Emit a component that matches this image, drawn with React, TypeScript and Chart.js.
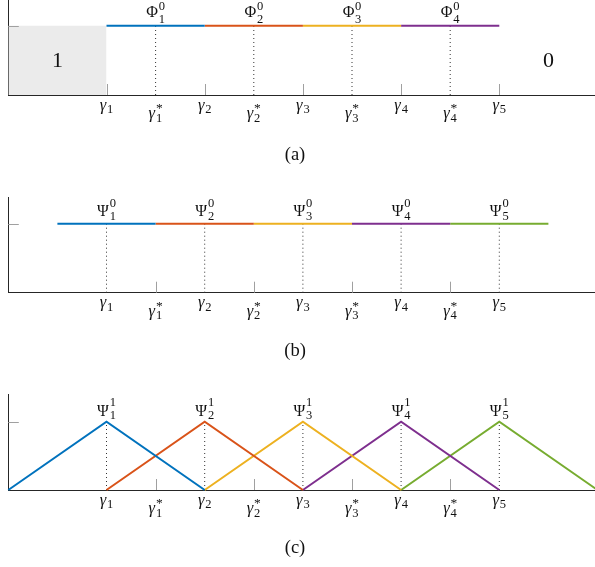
import React, { useEffect, useRef } from 'react';
import { Chart, registerables } from 'chart.js';

Chart.register(...registerables);

// ---------- data ----------
const X_MIN = 0;
const X_MAX = 6;
const gammaTicks = [1, 2, 3, 4, 5];
const gammaStarTicks = [1.5, 2.5, 3.5, 4.5];
const gammaIdx = ['1', '2', '3', '4', '5'];
const gammaStarIdx = ['1', '2', '3', '4'];

// (a) Phi^0 pieces
const phiStart = [1, 2, 3, 4];
const phiEnd = [2, 3, 4, 5];
const phiLevel = 1;
const phiIdx = ['1', '2', '3', '4'];
const boxRange = [0, 1];
const boxText = '1';
const outsideText = '0';

// (b) Psi^0 pieces
const psi0Start = [0.5, 1.5, 2.5, 3.5, 4.5];
const psi0End = [1.5, 2.5, 3.5, 4.5, 5.5];
const psi0Level = 1;
const psi0Idx = ['1', '2', '3', '4', '5'];

// (c) Psi^1 hats
const psi1Left = [0, 1, 2, 3, 4];
const psi1Peak = [1, 2, 3, 4, 5];
const psi1Right = [2, 3, 4, 5, 6];
const psi1Idx = ['1', '2', '3', '4', '5'];

const colors = ['#0072BD', '#D95319', '#EDB120', '#7E2F8E', '#77AC30'];

// ---------- styles ----------
const SERIF = '"Liberation Serif", "DejaVu Serif", serif';
const AXIS_COLOR = '#262626';
const TICK_COLOR = '#a0a0a0';
const CANVAS_W = 600;

type TopLabel = { x: number; y: number; sym: string; sup: string; sub: string };
type Panel = {
  top: number;
  height: number;
  pad: { left: number; right: number; top: number; bottom: number };
  yMax: number;
  datasets: any[];
  tickAt: number[];
  labels: TopLabel[];
  labelDy: { main: number; sup: number; sub: number };
  caption: string;
  captionDy: number;
  texts?: { x: number; y: number; t: string }[];
};

function dotted(xs: number[], ys: number[]) {
  return xs.map((x, i) => ({
    data: [{ x, y: 0 }, { x, y: ys[i] }],
    borderColor: '#333',
    borderWidth: 1,
    borderDash: [1, 3],
    pointRadius: 0,
    order: 10,
    clip: false,
  }));
}

function segs(starts: number[], ends: number[], level: number) {
  return starts.map((s, i) => ({
    data: [{ x: s, y: level }, { x: ends[i], y: level }],
    borderColor: colors[i],
    borderWidth: 2,
    pointRadius: 0,
    order: 0,
    clip: false,
  }));
}

const panels: Panel[] = [
  {
    top: 0,
    height: 180,
    pad: { left: 8.3, right: 2.5, top: 0, bottom: 85 },
    yMax: 1.371,
    datasets: [
      {
        data: [{ x: boxRange[0], y: phiLevel }, { x: boxRange[1], y: phiLevel }],
        borderWidth: 0,
        borderColor: 'rgba(0,0,0,0)',
        backgroundColor: '#ebebeb',
        fill: 'origin',
        pointRadius: 0,
        order: 20,
      },
      ...dotted(gammaStarTicks, gammaStarTicks.map(() => phiLevel)),
      ...segs(phiStart, phiEnd, phiLevel),
    ],
    tickAt: gammaTicks,
    labels: gammaStarTicks.map((x, i) => ({ x, y: phiLevel, sym: 'Φ', sup: '0', sub: phiIdx[i] })),
    labelDy: { main: -8.5, sup: -15.5, sub: -3 },
    caption: '(a)',
    captionDy: 60,
    texts: [
      { x: (boxRange[0] + boxRange[1]) / 2, y: 0.5, t: boxText },
      { x: 5.5, y: 0.5, t: outsideText },
    ],
  },
  {
    top: 180,
    height: 190,
    pad: { left: 8.3, right: 2.5, top: 17, bottom: 77.3 },
    yMax: 1.387,
    datasets: [
      ...dotted(gammaTicks, gammaTicks.map(() => psi0Level)),
      ...segs(psi0Start, psi0End, psi0Level),
    ],
    tickAt: gammaStarTicks,
    labels: gammaTicks.map((x, i) => ({ x, y: psi0Level, sym: 'Ψ', sup: '0', sub: psi0Idx[i] })),
    labelDy: { main: -8, sup: -16.5, sub: -4 },
    caption: '(b)',
    captionDy: 58.5,
  },
  {
    top: 370,
    height: 197,
    pad: { left: 8.3, right: 2.5, top: 24, bottom: 77 },
    yMax: 1.405,
    datasets: [
      ...dotted(psi1Peak, psi1Peak.map(() => 1)),
      ...psi1Peak.map((p, i) => ({
        data: [{ x: psi1Left[i], y: 0 }, { x: p, y: 1 }, { x: psi1Right[i], y: 0 }],
        borderColor: colors[i],
        borderWidth: 2,
        pointRadius: 0,
        borderJoinStyle: 'miter',
        order: 0,
        clip: false,
      })),
    ],
    tickAt: gammaStarTicks,
    labels: psi1Peak.map((x, i) => ({ x, y: 1, sym: 'Ψ', sup: '1', sub: psi1Idx[i] })),
    labelDy: { main: -6, sup: -15.5, sub: -3 },
    caption: '(c)',
    captionDy: 58.5,
  },
];

function drawMath(
  ctx: CanvasRenderingContext2D,
  cx: number,
  baseY: number,
  main: string,
  mainFont: string,
  sub: string,
  sup: string,
  subY: number,
  supY: number,
  scriptFont: string,
  supFont?: string
) {
  ctx.font = mainFont;
  const wm = ctx.measureText(main).width;
  ctx.font = scriptFont;
  const ws = sub ? ctx.measureText(sub).width : 0;
  ctx.font = supFont || scriptFont;
  const wp = sup ? ctx.measureText(sup).width : 0;
  const gap = 0.8;
  const total = wm + gap + Math.max(ws, wp);
  const x0 = cx - total / 2;
  ctx.textAlign = 'left';
  ctx.textBaseline = 'alphabetic';
  ctx.font = mainFont;
  ctx.fillText(main, x0, baseY);
  ctx.font = scriptFont;
  if (sub) ctx.fillText(sub, x0 + wm + gap, subY);
  ctx.font = supFont || scriptFont;
  if (sup) ctx.fillText(sup, x0 + wm + gap, supY);
}

function makePlugin(p: Panel) {
  return {
    id: 'decor',
    afterDraw(chart: any) {
      const ctx: CanvasRenderingContext2D = chart.ctx;
      const xs = chart.scales.x;
      const ys = chart.scales.y;
      const axisY = ys.getPixelForValue(0);
      const left = xs.getPixelForValue(X_MIN);
      ctx.save();
      // inward ticks
      ctx.strokeStyle = TICK_COLOR;
      ctx.lineWidth = 1;
      ctx.beginPath();
      p.tickAt.forEach((v) => {
        const x = Math.round(xs.getPixelForValue(v)) + 0.5;
        ctx.moveTo(x, axisY);
        ctx.lineTo(x, axisY - 11);
      });
      const y1 = Math.round(ys.getPixelForValue(1)) + 0.5;
      ctx.moveTo(left, y1);
      ctx.lineTo(left + 10.5, y1);
      ctx.stroke();

      ctx.fillStyle = '#111';
      const gFont = `italic 16.5px ${SERIF}`;
      const sFont = `12.5px ${SERIF}`;
      const astFont = `13.5px ${SERIF}`;
      gammaTicks.forEach((v, i) => {
        const x = xs.getPixelForValue(v);
        drawMath(ctx, x, axisY + 14.5, 'γ', gFont, gammaIdx[i], '', axisY + 18, 0, sFont);
      });
      gammaStarTicks.forEach((v, i) => {
        const x = xs.getPixelForValue(v);
        drawMath(ctx, x, axisY + 23, 'γ', gFont, gammaStarIdx[i], '*', axisY + 26.5, axisY + 17, sFont, astFont);
      });
      const mFont = `16px ${SERIF}`;
      p.labels.forEach((l) => {
        const x = xs.getPixelForValue(l.x);
        const y = ys.getPixelForValue(l.y);
        drawMath(ctx, x, y + p.labelDy.main, l.sym, mFont, l.sub, l.sup, y + p.labelDy.sub, y + p.labelDy.sup, sFont);
      });
      if (p.texts) {
        ctx.font = `22px ${SERIF}`;
        ctx.textAlign = 'center';
        ctx.textBaseline = 'middle';
        p.texts.forEach((t) => {
          ctx.fillText(t.t, xs.getPixelForValue(t.x), ys.getPixelForValue(t.y) + 1);
        });
      }
      ctx.font = `18.5px ${SERIF}`;
      ctx.textAlign = 'center';
      ctx.textBaseline = 'middle';
      ctx.fillText(p.caption, 295, axisY + p.captionDy);
      ctx.restore();
    },
  };
}

function PanelChart({ p }: { p: Panel }) {
  const ref = useRef<HTMLCanvasElement>(null);
  useEffect(() => {
    if (!ref.current) return;
    const chart = new Chart(ref.current, {
      type: 'line',
      data: { datasets: p.datasets },
      options: {
        animation: false,
        responsive: false,
        devicePixelRatio: 1,
        layout: { padding: p.pad },
        plugins: { legend: { display: false }, tooltip: { enabled: false } },
        scales: {
          x: {
            type: 'linear',
            min: X_MIN,
            max: X_MAX,
            z: 1,
            ticks: { display: false },
            grid: { display: false, drawTicks: false },
            border: { display: true, color: AXIS_COLOR, width: 1 },
          },
          y: {
            type: 'linear',
            min: 0,
            max: p.yMax,
            z: 1,
            ticks: { display: false },
            grid: { display: false, drawTicks: false },
            border: { display: true, color: AXIS_COLOR, width: 1 },
          },
        },
      } as any,
      plugins: [makePlugin(p)],
    });
    return () => chart.destroy();
  }, [p]);
  return (
    <canvas
      ref={ref}
      width={CANVAS_W}
      height={p.height}
      style={{ position: 'absolute', left: 0, top: p.top, width: CANVAS_W, height: p.height }}
    />
  );
}

export default function App() {
  return (
    <div
      style={{
        position: 'fixed',
        left: 0,
        top: 0,
        width: 595,
        height: 567,
        overflow: 'hidden',
        background: '#fff',
      }}
    >
      {panels.map((p, i) => (
        <PanelChart key={i} p={p} />
      ))}
    </div>
  );
}
